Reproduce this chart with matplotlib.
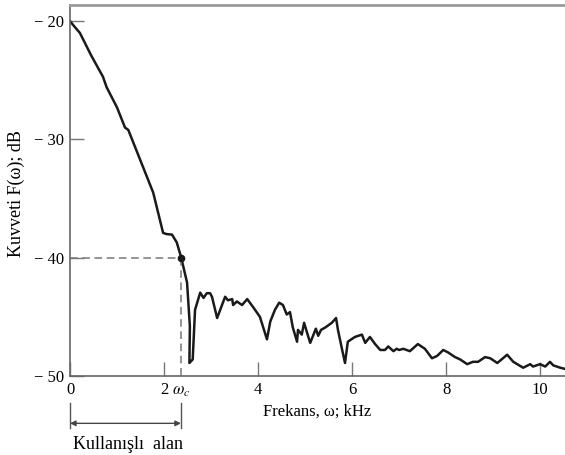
import matplotlib
matplotlib.use("Agg")
import matplotlib.pyplot as plt

freq_khz = [0.0, 0.08, 0.21, 0.45, 0.70, 0.78, 1.00, 1.17, 1.24, 1.50, 1.77, 1.98, 2.05, 2.17, 2.27,
            2.36, 2.49, 2.55, 2.54, 2.61, 2.66, 2.77, 2.84, 2.91, 2.98, 3.02, 3.13, 3.30, 3.36, 3.45,
            3.47, 3.55, 3.66, 3.77, 3.90, 4.04, 4.19, 4.26, 4.36, 4.45, 4.53, 4.61, 4.68, 4.74, 4.83,
            4.85, 4.93, 4.98, 5.04, 5.11, 5.23, 5.28, 5.34, 5.43, 5.57, 5.66, 5.70, 5.79, 5.85, 5.91,
            6.06, 6.21, 6.28, 6.38, 6.49, 6.60, 6.70, 6.77, 6.88, 6.95, 7.00, 7.09, 7.23, 7.40, 7.55,
            7.70, 7.81, 7.94, 8.04, 8.19, 8.30, 8.45, 8.57, 8.68, 8.83, 8.94, 9.09, 9.30, 9.43, 9.64,
            9.79, 9.85, 10.00, 10.11, 10.21, 10.28, 10.43, 10.53]
power_db = [-20.0, -20.4, -21.0, -22.9, -24.7, -25.6, -27.3, -29.0, -29.2, -31.8, -34.5, -37.9, -38.0, -38.05, -38.7,
            -39.9, -42.1, -45.8, -48.9, -48.6, -44.4, -42.95, -43.4, -43.0, -43.0, -43.3, -45.1, -43.3, -43.6, -43.5,
            -44.0, -43.7, -44.0, -43.5, -44.2, -45.0, -46.9, -45.4, -44.4, -43.8, -44.0, -44.8, -44.6, -45.9, -47.1,
            -46.1, -46.5, -45.5, -46.3, -47.2, -46.0, -46.6, -46.1, -45.9, -45.5, -45.1, -46.1, -47.8, -48.9, -47.1,
            -46.7, -46.5, -47.2, -46.7, -47.3, -47.8, -47.8, -47.5, -47.9, -47.7, -47.8, -47.7, -47.9, -47.3, -47.7,
            -48.5, -48.3, -47.8, -48.0, -48.4, -48.6, -49.0, -48.8, -48.8, -48.4, -48.5, -48.9, -48.2, -48.8, -49.3,
            -49.0, -49.2, -49.0, -49.2, -48.8, -49.1, -49.3, -49.4]

omega_c = 2.36
cutoff_db = -40
xticks = [0, 2, 4, 6, 8, 10]
xtick_labels = ["0", "2", "4", "6", "8", "10"]
yticks = [-50, -40, -30, -20]
ytick_labels = ["\u2212 50", "\u2212 40", "\u2212 30", "\u2212 20"]

plt.rcParams['font.family'] = ['Liberation Serif', 'DejaVu Serif']
plt.rcParams['mathtext.fontset'] = 'stix'

fig = plt.figure(figsize=(5.65, 4.55), dpi=100)
ax = fig.add_axes([0.1239, 0.1736, 0.8761, 0.8165])
ax.set_xlim(0, 10.53)
ax.set_ylim(-50, -18.6)

ax.plot(freq_khz, power_db, color='#1a1a1a', lw=1.8, solid_joinstyle='round')
ax.plot([0, omega_c], [cutoff_db, cutoff_db], color='#777777', lw=1.1, ls=(0, (5, 3)))
ax.plot([omega_c, omega_c], [cutoff_db, -50], color='#777777', lw=1.1, ls=(0, (5, 3)))
ax.plot([omega_c], [cutoff_db], 'o', color='#1a1a1a', ms=4.5)

ax.set_xticks(xticks)
ax.set_xticklabels(xtick_labels)
ax.set_yticks(yticks)
ax.set_yticklabels(ytick_labels)
ax.tick_params(direction='in', length=10, width=1, color='#777777', labelsize=12, pad=4)

for s in ['left', 'bottom']:
    ax.spines[s].set_color('#666666')
    ax.spines[s].set_linewidth(1.2)
ax.spines['right'].set_visible(False)
ax.spines['top'].set_color('#9a9a9a')
ax.spines['top'].set_linewidth(2)

ax.text(omega_c, -50.55, r'$\omega_c$', ha='center', va='top', fontsize=12, clip_on=False)
ax.set_xlabel('Frekans, \u03c9; kHz', fontsize=12, labelpad=4)
ax.xaxis.set_label_coords(0.5, -0.075)
ax.set_ylabel('Kuvveti F(\u03c9); dB', fontsize=13)
ax.yaxis.set_label_coords(-0.091, 0.49)

# Useful range indicator below the axis
for xv in [0, omega_c]:
    ax.plot([xv, xv], [-52.24, -54.43], color='#555555', lw=1.0, clip_on=False)
ax.annotate('', xy=(0, -54.0), xytext=(omega_c, -54.0),
            arrowprops=dict(arrowstyle='<|-|>', color='#444444', lw=1.0,
                            mutation_scale=8, shrinkA=0, shrinkB=0),
            annotation_clip=False)
ax.text(omega_c / 2 + 0.05, -55.8, 'Kullan\u0131\u015fl\u0131  alan', ha='center', va='center',
        fontsize=13, clip_on=False)

fig.savefig('out.png', dpi=100)
